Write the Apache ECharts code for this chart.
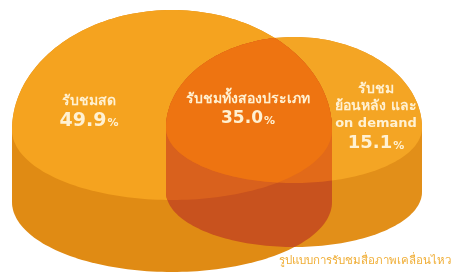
<!DOCTYPE html>
<html><head><meta charset="utf-8">
<script src="https://cdn.jsdelivr.net/npm/echarts@6/dist/echarts.min.js"></script>
<style>html,body{margin:0;padding:0;background:#fff}#c{width:457px;height:277px}</style>
</head><body><div id="c"></div>
<script>
// ---- data ----
const categories = ['รับชมสด', 'รับชมทั้งสองประเภท', 'รับชม\nย้อนหลัง และ\non demand'];
const values = [49.9, 35.0, 15.1];
const unit = '%';
const caption = 'รูปแบบการรับชมสื่อภาพเคลื่อนไหว';

// ---- layout (axis units) ----
// perspective ellipse: wider far half (ryTop) and flatter near half (ryBot)
const BIG = {cx:172, cy:130, rx:160, ryTop:120, ryBot:70, depth:72};
const SMALL = {cx:294, cy:128, rx:128, ryTop:91, ryBot:55, depth:64};
const LABEL_POS = [[89,112],[248,110],[376,117]];
const VALUE_SIZE = [19, 17, 18];
const COLORS = {
  bigSide:'#E08B14', bigTop:'#F5A31F',
  smallSide:'#E28F19', smallTop:'#F4A524',
  bothSide:'#C8521E', bigTopSmallSide:'#D9611D', bigSideSmallTop:'#E26A19', bothTop:'#EE7411'
};
const FONT = '"DejaVu Sans", "Noto Sans", sans-serif';

function ell(e, dy, n){ n=n||200; const pts=[];
  for(let i=0;i<n;i++){const t=2*Math.PI*i/n, s=Math.sin(t); pts.push([e.cx+e.rx*Math.cos(t), e.cy+dy+(s<0?e.ryTop:e.ryBot)*s]);} return pts;}
function hull(p){p=p.slice().sort((u,v)=>u[0]-v[0]||u[1]-v[1]); const cr=(o,a,b)=>(a[0]-o[0])*(b[1]-o[1])-(a[1]-o[1])*(b[0]-o[0]);
  const lo=[],up=[]; for(const q of p){while(lo.length>=2&&cr(lo[lo.length-2],lo[lo.length-1],q)<=0)lo.pop(); lo.push(q);}
  for(let i=p.length-1;i>=0;i--){const q=p[i]; while(up.length>=2&&cr(up[up.length-2],up[up.length-1],q)<=0)up.pop(); up.push(q);}
  up.pop(); lo.pop(); return lo.concat(up);}
function clip(subj, cl){ let out=subj;
  for(let i=0;i<cl.length;i++){ const A=cl[i], B=cl[(i+1)%cl.length]; const inp=out; out=[]; if(!inp.length) break;
    const ins=p=>(B[0]-A[0])*(p[1]-A[1])-(B[1]-A[1])*(p[0]-A[0])>=0;
    const inter=(P,Q)=>{const a1=B[1]-A[1], b1=A[0]-B[0], c1=a1*A[0]+b1*A[1]; const a2=Q[1]-P[1], b2=P[0]-Q[0], c2=a2*P[0]+b2*P[1]; const d=a1*b2-a2*b1; return [(b2*c1-b1*c2)/d,(a1*c2-a2*c1)/d];};
    for(let j=0;j<inp.length;j++){const P=inp[j], Q=inp[(j+1)%inp.length]; const pi=ins(P), qi=ins(Q);
      if(pi){out.push(P); if(!qi) out.push(inter(P,Q));} else if(qi){out.push(inter(P,Q));}}
  } return out;}

const bigTop = ell(BIG,0), bigSil = hull(ell(BIG,0).concat(ell(BIG,BIG.depth)));
const smTop = ell(SMALL,0), smSil = hull(ell(SMALL,0).concat(ell(SMALL,SMALL.depth)));

function poly(api, pts, color){ return {type:'polygon', shape:{points:pts.map(p=>api.coord(p))}, style:{fill:color}, silent:true}; }

// region index: 0 = left only, 1 = both, 2 = right only ; draw order right, left, both
const drawOrder = [2,0,1];
function renderRegion(params, api){
  const r = api.value(0); const ch = [];
  if(r===2){ ch.push(poly(api, smSil, COLORS.smallSide)); ch.push(poly(api, smTop, COLORS.smallTop)); }
  else if(r===0){ ch.push(poly(api, bigSil, COLORS.bigSide)); ch.push(poly(api, bigTop, COLORS.bigTop)); }
  else {
    ch.push(poly(api, clip(bigSil, smSil), COLORS.bothSide));
    ch.push(poly(api, clip(bigTop, smSil), COLORS.bigTopSmallSide));
    ch.push(poly(api, clip(bigSil, smTop), COLORS.bigSideSmallTop));
    ch.push(poly(api, clip(bigTop, smTop), COLORS.bothTop));
  }
  return {type:'group', children:ch};
}
function renderLabel(params, api){
  const i = api.value(0); const pos = api.coord(LABEL_POS[i]);
  const lines = categories[i].split('\n').map(s=>(/[a-z]/i.test(s)?'{l|':'{t|')+s+'}');
  const txt = lines.join('\n') + '\n{v'+i+'|' + values[i].toFixed(1) + '}{p|' + unit + '}';
  const rich = { t:{fontFamily:FONT, fontWeight:'bold', fontSize:14, lineHeight:17.5, fill:'#FFF1D2', align:'center'},
                 l:{fontFamily:FONT, fontWeight:'bold', fontSize:13, lineHeight:17.5, fill:'#FFF1D2', align:'center'},
                 p:{fontFamily:FONT, fontWeight:'bold', fontSize:11, lineHeight:21, fill:'#FFF1D2', padding:[5,0,0,1]} };
  rich['v'+i] = {fontFamily:FONT, fontWeight:'bold', fontSize:VALUE_SIZE[i], lineHeight:21, fill:'#FFF1D2'};
  return {type:'text', x:pos[0], y:pos[1], silent:true, style:{text:txt, align:'center', verticalAlign:'middle', rich:rich}};
}

const chart = echarts.init(document.getElementById('c'), null, {renderer:'canvas'});
chart.setOption({
  animation:false,
  backgroundColor:'#ffffff',
  title:{text:caption, right:1, bottom:5, textStyle:{fontFamily:FONT, fontSize:11.5, fontWeight:'normal', color:'#F0AE36'}},
  grid:{left:0,right:0,top:0,bottom:0},
  xAxis:{type:'value', min:0, max:457, show:false},
  yAxis:{type:'value', min:0, max:277, inverse:true, show:false},
  series:[
    {type:'custom', renderItem:renderRegion, data:drawOrder.map(i=>[i]), clip:false, silent:true},
    {type:'custom', renderItem:renderLabel, data:categories.map((c,i)=>[i]), clip:false, silent:true}
  ]
});
</script></body></html>
